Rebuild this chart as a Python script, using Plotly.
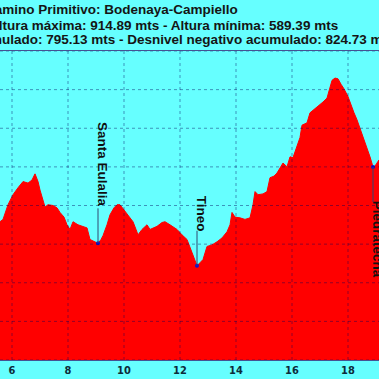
import plotly.graph_objects as go

# ---- data (km, altitude m) ----
dist_km = [5.50, 5.571, 5.679, 5.857, 6.036, 6.214, 6.393, 6.571, 6.714, 6.821, 6.929, 7.0,
           7.107, 7.179, 7.286, 7.464, 7.607, 7.714, 7.857, 7.964, 8.071, 8.179, 8.357,
           8.571, 8.679, 8.786, 8.964, 9.071, 9.179, 9.25, 9.393, 9.5, 9.643, 9.75, 9.857,
           9.964, 10.071, 10.214, 10.321, 10.429, 10.5, 10.643, 10.821, 10.929, 11.179,
           11.357, 11.464, 11.643, 11.893, 12.071, 12.25, 12.429, 12.607, 12.714, 12.821,
           12.964, 13.143, 13.321, 13.5, 13.679, 13.786, 13.857, 13.964, 14.143, 14.321,
           14.5, 14.607, 14.679, 14.786, 14.964, 15.107, 15.214, 15.357, 15.464, 15.571,
           15.679, 15.821, 15.929, 16.036, 16.179, 16.286, 16.357, 16.536, 16.643, 16.786,
           16.893, 17.0, 17.107, 17.25, 17.357, 17.429, 17.536, 17.643, 17.75, 17.857,
           18.0, 18.107, 18.214, 18.321, 18.429, 18.536, 18.643, 18.786, 18.893, 18.964,
           19.107, 19.214]
altitude_m = [727, 729, 732, 751, 764, 773, 781, 779, 783, 791, 781, 770,
              757, 748, 751, 750, 747, 741, 735, 725, 719, 729, 725,
              723, 721, 706, 703, 701, 706, 711, 725, 738, 747, 751, 751,
              746, 741, 734, 729, 719, 712, 719, 725, 719, 723,
              728, 729, 725, 719, 712, 706, 689, 672, 676, 680,
              697, 699, 703, 708, 716, 725, 741, 735, 734, 732,
              734, 751, 768, 764, 765, 768, 786, 788, 792, 799,
              805, 800, 813, 812, 826, 838, 854, 857, 870, 874,
              878, 881, 884, 889, 902, 912, 915, 914, 907, 901,
              891, 880, 870, 861, 850, 839, 829, 813, 800, 801,
              809, 812]

# waypoints
place_names = ["Santa Eulalia", "Tineo", "Piedratecha"]
place_km = [9.071, 12.607, 18.893]
place_alt = [701, 672, 800]

x_ticks = [6, 8, 10, 12, 14, 16, 18]
y_grid = [550, 600, 650, 700, 750, 800, 850, 900, 950]

title_lines = [
    "Camino Primitivo: Bodenaya-Campiello",
    "Altura máxima: 914.89 mts - Altura mínima: 589.39 mts",
    "Desnivel positivo acumulado: 795.13 mts - Desnivel negativo acumulado: 824.73 mts",
]

# ---- styling / layout ----
W = H = 379
M_T, M_B = 51, 19
PLOT_H = H - M_T - M_B
BG = "#66FFFF"
GRID = "rgba(0,0,90,0.42)"
FONT = "Liberation Sans, Arial, sans-serif"
X_RANGE = [5.571, 19.107]
Y_RANGE = [550, 950]

fig = go.Figure()
fig.add_trace(go.Scatter(
    x=dist_km, y=altitude_m, mode="lines", fill="tozeroy",
    fillcolor="#FF0000", line=dict(color="#FF0000", width=1),
    hoverinfo="skip", showlegend=False))

fig.add_trace(go.Scatter(
    x=place_km, y=place_alt, mode="markers",
    marker=dict(color="#1010D0", size=4), hoverinfo="skip", showlegend=False))

shapes = []
# dotted grid drawn above the filled profile
for v in x_ticks:
    shapes.append(dict(type="line", xref="x", yref="paper", x0=v, x1=v, y0=0, y1=1,
                       layer="above", line=dict(color=GRID, width=1, dash="dot")))
for v in y_grid:
    shapes.append(dict(type="line", xref="paper", yref="y", x0=0, x1=1, y0=v, y1=v,
                       layer="above", line=dict(color=GRID, width=1, dash="dot")))

# title lines (left offsets in px, vertical centres in px from top)
title_left_px = [-17.5, -13.5, -150.0]
title_mid_px = [9.0, 25.5, 39.5]
annotations = []
for txt, lx, my in zip(title_lines, title_left_px, title_mid_px):
    annotations.append(dict(
        text=txt, xref="paper", yref="paper", x=lx / W,
        y=(H - M_B - my) / PLOT_H, xanchor="left", yanchor="middle",
        showarrow=False,
        font=dict(family=FONT, size=13.5, color="#151515", weight="bold")))

line_len = 35
text_w_per_char = 6.6
directions = [1, 1, -1]   # label above (+1) or below (-1) the point
for name, km, alt, d in zip(place_names, place_km, place_alt, directions):
    half = len(name) * text_w_per_char / 2
    shapes.append(dict(type="line", xref="x", yref="y", x0=km, x1=km,
                       ysizemode="pixel", yanchor=alt, y0=0, y1=d * line_len,
                       layer="above", line=dict(color="#304870", width=1)))
    annotations.append(dict(
        text=name, x=km, y=alt, xref="x", yref="y", showarrow=False,
        textangle=90, xshift=4.5, yshift=d * (line_len + half + 1),
        font=dict(family=FONT, size=13.5, color="#101010", weight="bold")))

fig.update_layout(
    width=W, height=H,
    margin=dict(l=0, r=0, t=M_T, b=M_B, pad=0),
    paper_bgcolor=BG, plot_bgcolor=BG,
    showlegend=False, hovermode=False,
    annotations=annotations, shapes=shapes,
    xaxis=dict(range=X_RANGE, tickvals=x_ticks,
               ticktext=[str(v) for v in x_ticks],
               showgrid=False, zeroline=False, showline=True,
               linecolor="rgba(60,40,120,0.8)", linewidth=1, mirror=True,
               ticks="", ticklen=0, automargin=False,
               tickfont=dict(family="Liberation Sans Narrow, Arial Narrow, DejaVu Sans Condensed, sans-serif",
                             size=11, color="#0d2c3a", weight="bold"),
               layer="above traces"),
    yaxis=dict(range=Y_RANGE, showgrid=False, zeroline=False,
               showticklabels=False, ticks="", automargin=False),
)

fig.write_html("out.html", config={"displayModeBar": False},
               post_script="document.body.style.margin='0';")
